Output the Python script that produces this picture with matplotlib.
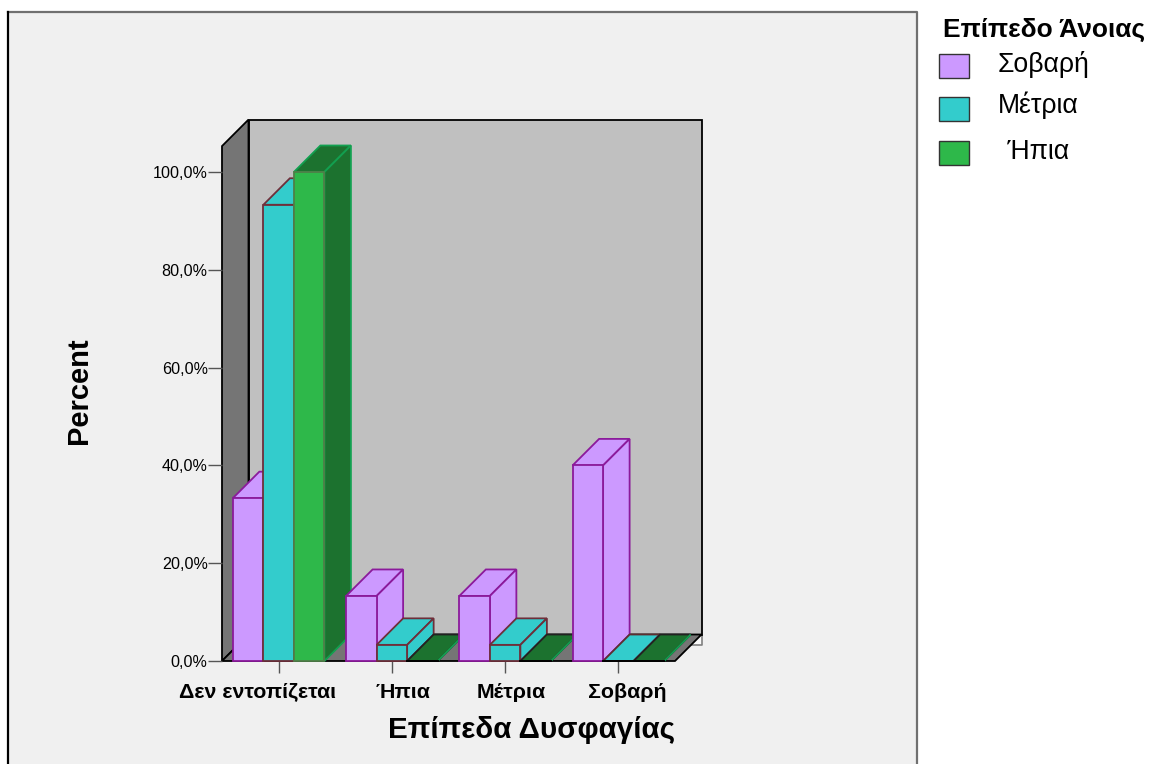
import numpy as np
import matplotlib
matplotlib.use('Agg')
import matplotlib.pyplot as plt
from matplotlib.patches import Polygon, Rectangle

plt.rcParams['font.family'] = ['Liberation Sans', 'DejaVu Sans']

# data
categories = ['Δεν εντοπίζεται', 'Ήπια', 'Μέτρια', 'Σοβαρή']
severe = [33.3, 13.3, 13.3, 40.0]
moderate = [93.3, 3.3, 3.3, 0.0]
mild = [100.0, 0.0, 0.0, 0.0]
legend_names = ['Σοβαρή', 'Μέτρια', ' Ήπια']
yticks = [0, 20, 40, 60, 80, 100]
ytick_labels = ['0,0%', '20,0%', '40,0%', '60,0%', '80,0%', '100,0%']

W, H = 1149, 764
fig = plt.figure(figsize=(W / 100, H / 100), dpi=100, facecolor='white')

# background panel in pixels
bg = fig.add_axes([0, 0, 1, 1])
bg.set_xlim(0, W)
bg.set_ylim(H, 0)
bg.axis('off')
bg.add_patch(Rectangle((8, 12), 909, 770, fc='#f0f0f0', ec='none'))
bg.plot([8, 917, 917], [12, 12, H], color='#707070', lw=1.6)
bg.plot([8, 8], [12, H], color='black', lw=1.6)

# plot box: front floor edge is 222..675, 0% at y=661, 100% at y=172
ax = fig.add_axes([222 / W, 1 - 661 / H, 453 / W, 489 / H])
ax.set_xlim(-0.5, 3.5)
ax.set_ylim(0, 100)
ax.patch.set_alpha(0)
for s in ax.spines.values():
    s.set_visible(False)

dx = 26.5 / 113.25
dy = 26.5 / 4.89
top = 105.3
bw = 0.2695
xl, xr = -0.5, 3.5


def poly(pts, fc, ec, lw=1.3, z=2):
    ax.add_patch(Polygon(pts, closed=True, fc=fc, ec=ec, lw=lw, zorder=z, clip_on=False, joinstyle='miter'))


# walls and floor
poly([(xr + dx, dy), (xr + dx, dy - 2.1), (xr + 0.135, dy - 2.1)], '#fafafa', 'none', 1, 0.5)
ax.plot([xr + dx, xr + dx, xr + 0.135], [dy, dy - 2.1, dy - 2.1], color='#808080', lw=1.2, clip_on=False, zorder=1)
poly([(xl + dx, dy), (xr + dx, dy), (xr + dx, top + dy), (xl + dx, top + dy)], '#c0c0c0', 'black', 1.3, 1)
poly([(xl, 0), (xl + dx, dy), (xl + dx, top + dy), (xl, top)], '#757575', 'black', 1.3, 1)
poly([(xl, 0), (xr, 0), (xr + dx, dy), (xl + dx, dy)], '#757575', 'black', 1.3, 1)

styles = [
    dict(front='#cc99ff', top='#cc99ff', side='#cc99ff', edge='#8b1a9b', dark='#8b1a9b', flat='#8b1a9b'),
    dict(front='#33cccc', top='#33cccc', side='#33cccc', edge='#6e2f3a', dark='#6e2f3a', flat='#5e2f30'),
    dict(front='#2eb84a', top='#1c722f', side='#1c722f', edge='#4f7f48', dark='#12a050', flat='#222222'),
]


def bar3d(x, v, st):
    # top, side, then front so the nearer faces stay on top
    poly([(x, v), (x + bw, v), (x + bw + dx, v + dy), (x + dx, v + dy)], st['top'], st['dark'] if v > 0 else st['flat'])
    poly([(x + bw, 0), (x + bw + dx, dy), (x + bw + dx, v + dy), (x + bw, v)], st['side'], st['dark'])
    if v > 0:
        poly([(x, 0), (x + bw, 0), (x + bw, v), (x, v)], st['front'], st['edge'])
    else:
        ax.plot([x, x + bw], [0, 0], color='black', lw=1.4, clip_on=False, zorder=3)


for i in range(len(categories)):
    for j, vals in enumerate([severe, moderate, mild]):
        bar3d(i - 1.5 * bw + j * bw, vals[i], styles[j])

# axes
ax.set_xticks(range(len(categories)))
ax.set_xticklabels([])
ax.set_yticks(yticks)
ax.set_yticklabels(ytick_labels, fontsize=11.6, color='black')
ax.tick_params(axis='x', length=8.5, width=1, color='#555555')
ax.tick_params(axis='y', length=10, width=1, color='#555555', pad=0.3)

# category labels sit a little right of their ticks
cat_label_x = [257.5, 403, 511, 627.5]
for name, px in zip(categories, cat_label_x):
    bg.text(px, 692, name, fontsize=15.4, fontweight='bold', ha='center', va='center')

bg.text(79, 391, 'Percent', rotation=90, fontsize=21, fontweight='bold', ha='center', va='center')
bg.text(532, 730, 'Επίπεδα Δυσφαγίας', fontsize=21.3, fontweight='bold', ha='center', va='center')

# legend
bg.text(943, 30, 'Επίπεδο Άνοιας', fontsize=19, fontweight='bold', ha='left', va='center')
legend_colors = ['#cc99ff', '#33cccc', '#2eb84a']
legend_box_y = [54, 97, 141]
legend_text_y = [64, 105, 152]
legend_text_x = [998, 998, 1000]
for name, c, by, tx, ty in zip(legend_names, legend_colors, legend_box_y, legend_text_x, legend_text_y):
    bg.add_patch(Rectangle((939, by), 30, 24, fc=c, ec='#333333', lw=1))
    bg.text(tx, ty, name, fontsize=19.2, ha='left', va='center')

fig.savefig('out.png', dpi=100)
